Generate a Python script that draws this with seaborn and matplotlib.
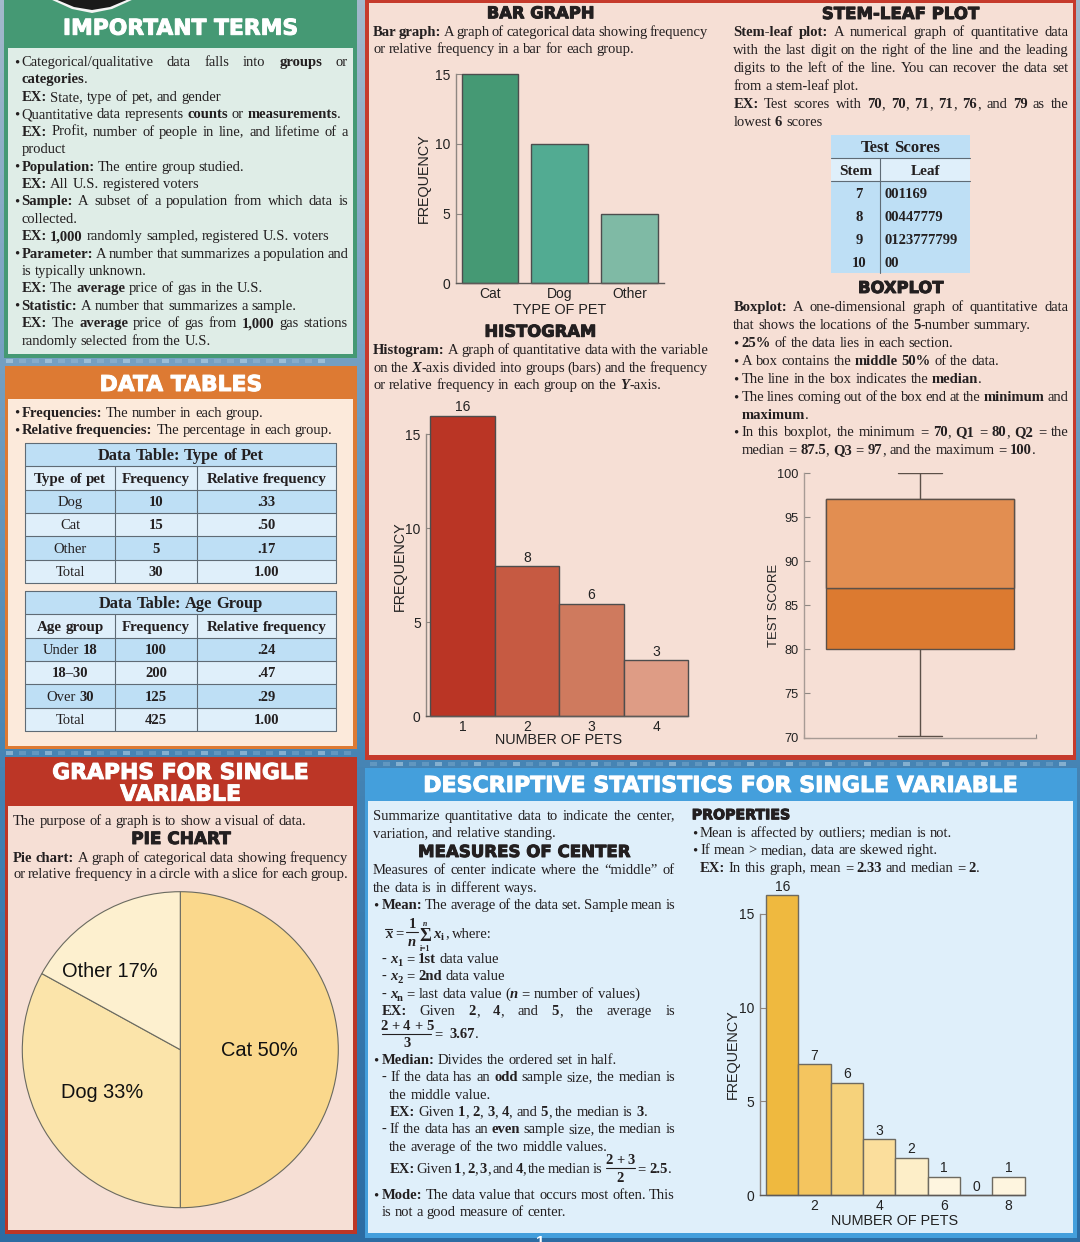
import re
import matplotlib
matplotlib.use("Agg")
import matplotlib.pyplot as plt
import matplotlib.patheffects as pe
from matplotlib.colors import LinearSegmentedColormap
from matplotlib.patches import Rectangle, Polygon
import numpy as np
import seaborn as sns

W, H = 1080, 1242
SERIF = "Liberation Serif"
SANS = "Liberation Sans"
HEAVY = "DejaVu Sans"
BODY = 10.55
INK = "#231F20"

# chart values
bar_cats = ["Cat", "Dog", "Other"]
bar_vals = [15, 10, 5]
bar_cols = ["#459974", "#52AB92", "#7FBAA5"]

hist1_cats = ["1", "2", "3", "4"]
hist1_vals = [16, 8, 6, 3]
hist1_cols = ["#BA3525", "#C65A42", "#CF7A5E", "#DE9C85"]

hist2_cats = ["1", "2", "3", "4", "5", "6", "7", "8"]
hist2_vals = [16, 7, 6, 3, 2, 1, 0, 1]
hist2_cols = ["#EFB93F", "#F4C55F", "#F6D27B", "#FBDE9C", "#FDEEC8", "#FEF5DF", "#FEF5DF", "#FEF5DF"]
hist2_ticks = ["2", "4", "6", "8"]

box_scores = [70.2, 80, 87, 97, 100]

pie_labels = ["Cat 50%", "Dog 33%", "Other 17%"]
pie_vals = [50, 33, 17]
pie_cols = ["#FAD88C", "#FBE4AA", "#FDF0CF"]

# tables
pet_rows = ["Dog", "Cat", "Other", "Total"]
pet_freq = ["10", "15", "5", "30"]
pet_rel = [".33", ".50", ".17", "1.00"]
age_rows = ["Under **18**", "**18–30**", "Over **30**", "Total"]
age_freq = ["100", "200", "125", "425"]
age_rel = [".24", ".47", ".29", "1.00"]
stems = ["7", "8", "9", "10"]
leaves = ["001169", "00447779", "0123777799", "00"]

terms_lines = [
    ("•", "Categorical/qualitative data falls into **groups** or", True),
    ("", "**categories**.", False),
    ("", "**EX:** State, type of pet, and gender", False),
    ("•", "Quantitative data represents **counts** or **measurements**.", False),
    ("", "**EX:** Profit, number of people in line, and lifetime of a", True),
    ("", "product", False),
    ("•", "**Population:** The entire group studied.", False),
    ("", "**EX:** All U.S. registered voters", False),
    ("•", "**Sample:** A subset of a population from which data is", True),
    ("", "collected.", False),
    ("", "**EX: 1,000** randomly sampled, registered U.S. voters", False),
    ("•", "**Parameter:** A number that summarizes a population and", True),
    ("", "is typically unknown.", False),
    ("", "**EX:** The **average** price of gas in the U.S.", False),
    ("•", "**Statistic:** A number that summarizes a sample.", False),
    ("", "**EX:** The **average** price of gas from **1,000** gas stations", True),
    ("", "randomly selected from the U.S.", False),
]

stem_lines = [
    "**Stem-leaf plot:** A numerical graph of quantitative data",
    "with the last digit on the right of the line and the leading",
    "digits to the left of the line. You can recover the data set",
    "from a stem-leaf plot.",
    "**EX:** Test scores with **70**, **70**, **71**, **71**, **76**, and **79** as the",
    "lowest **6** scores",
]

box_lines = [
    (311, "", "**Boxplot:** A one-dimensional graph of quantitative data", True),
    (329, "", "that shows the locations of the **5**-number summary.", False),
    (347, "•", "**25%** of the data lies in each section.", False),
    (365, "•", "A box contains the **middle 50%** of the data.", False),
    (383, "•", "The line in the box indicates the **median**.", False),
    (401, "•", "The lines coming out of the box end at the **minimum** and", True),
    (419, "", "**maximum**.", False),
    (436, "•", "In this boxplot, the minimum = **70**, **Q1** = **80**, **Q2** = the", True),
    (454, "", "median = **87.5**, **Q3** = **97**, and the maximum = **100**.", False),
]

sns.set_theme(style="ticks")
plt.rcParams["font.family"] = [SANS, "DejaVu Sans"]

fig = plt.figure(figsize=(W / 100, H / 100), dpi=100)
bg = fig.add_axes([0, 0, 1, 1])
bg.set_xlim(0, W)
bg.set_ylim(H, 0)
bg.axis("off")
rend = fig.canvas.get_renderer()

# backdrop
cmap = LinearSegmentedColormap.from_list("back", ["#A3B9CC", "#6E9CC0", "#3F80B2", "#2C6CA3"])
bg.imshow(np.linspace(0, 1, 256).reshape(-1, 1), cmap=cmap, extent=[0, W, H, 0], aspect="auto", zorder=0)
bg.set_xlim(0, W)
bg.set_ylim(H, 0)


def rect(x0, y0, x1, y1, color, z=1, **kw):
    bg.add_patch(Rectangle((x0, y0), x1 - x0, y1 - y0, facecolor=color, edgecolor="none", zorder=z, **kw))


for x_start, x_end, yy in [(6, 320, 359), (6, 345, 751), (370, 1070, 762)]:
    for sx in range(x_start, x_end, 13):
        rect(sx, yy, sx + 7, yy + 4, "#CFE4F2", z=0.5, alpha=0.2 + 0.25 * (sx % 3 == 0))

# panels
rect(4, -2, 357, 358, "#459974")
rect(8, 48, 353, 354, "#DFEDE7")
rect(5, 366, 357, 749, "#DD7A33")
rect(8, 399, 353, 746, "#FCEADB")
rect(5, 757, 357, 1234, "#BC3626")
rect(8, 806, 353, 1230, "#F6DFD5")
rect(365, -2, 1076, 760, "#C63A2C")
rect(369, 3, 1073, 755, "#F6DFD5")
rect(365, 768, 1077, 1238, "#449FDC")
rect(368, 801, 1073, 1233, "#DFEFFA")

bg.add_patch(Polygon([(50, -1), (72, 9), (92, 13), (112, 9), (134, -1)], facecolor="#F5F5F5", edgecolor="none", zorder=2))
bg.add_patch(Polygon([(55, -1), (74, 7), (92, 10), (110, 7), (129, -1)], facecolor="#1A1A1A", edgecolor="none", zorder=3))


cache = {}


def measure(s, style, size):
    key = (s, style, size)
    if key not in cache:
        t = draw(0, 0, s, style, size)
        cache[key] = t.get_window_extent(rend).width
        t.remove()
    return cache[key]


def draw(x, y, s, style, size, color=INK):
    weight = "bold" if style in ("b", "i", "s") else "normal"
    slant = "italic" if style == "i" else "normal"
    fs = size * 0.72 if style == "s" else size
    dy = 3 if style == "s" else 0
    return bg.text(x, y + dy, s, family=SERIF, fontsize=fs, fontweight=weight, fontstyle=slant,
                   color=color, ha="left", va="baseline", zorder=5)


def tokens(s):
    out = [[]]
    for b, i, sub, plain in re.findall(r"\*\*(.+?)\*\*|__(.+?)__|~(.+?)~|([^*_~]+)", s):
        style = "b" if b else "i" if i else "s" if sub else "r"
        parts = (b or i or sub or plain).split(" ")
        for n, p in enumerate(parts):
            if n > 0:
                out.append([])
            if p:
                out[-1].append((style, p))
    return [t for t in out if t]


def line(x, y, s, right=None, center=False, size=BODY):
    toks = tokens(s)
    widths = [sum(measure(p, st, size) for st, p in t) for t in toks]
    gap = size * 0.25 * 100 / 72
    total = sum(widths) + gap * (len(toks) - 1)
    if right is not None and len(toks) > 1:
        gap = (right - x - sum(widths)) / (len(toks) - 1)
    if center:
        x = x - total / 2
    for t, w in zip(toks, widths):
        cx = x
        for st, p in t:
            draw(cx, y, p, st, size)
            cx += measure(p, st, size)
        x += w + gap


def bullet(x, y):
    draw(x, y, "•", "r", BODY)


def heading(s, cx, y, width, color=INK, ha="center"):
    t = bg.text(0, 0, s, family=HEAVY, fontweight="bold", fontsize=10)
    w = t.get_window_extent(rend).width
    t.remove()
    bg.text(cx, y, s, family=HEAVY, fontweight="bold", fontsize=10 * width / w, color=color,
            ha=ha, va="baseline", zorder=5,
            path_effects=[pe.withStroke(linewidth=0.7, foreground=color)])


heading("IMPORTANT TERMS", 180.8, 34.7, 236, "white")
heading("DATA TABLES", 180.8, 391, 163, "white")
heading("GRAPHS FOR SINGLE", 180.5, 779, 257, "white")
heading("VARIABLE", 180.5, 800.7, 121, "white")
heading("BAR GRAPH", 540.8, 18.3, 108)
heading("HISTOGRAM", 540.5, 336.7, 112)
heading("STEM-LEAF PLOT", 900.8, 19, 158)
heading("BOXPLOT", 900.8, 293, 86)
heading("DESCRIPTIVE STATISTICS FOR SINGLE VARIABLE", 720.5, 792, 596, "white")
heading("MEASURES OF CENTER", 524.3, 857, 213)
heading("PROPERTIES", 691.7, 819.3, 99, ha="left")
heading("PIE CHART", 180.7, 844, 100)

# important terms
for n, (mark, s, just) in enumerate(terms_lines):
    y = 66 + n * 17.42
    if mark:
        bullet(14, y)
    line(21.3, y, s, right=348 if just else None)

# data tables
bullet(14, 416.7)
line(21.3, 416.7, "**Frequencies:** The number in each group.")
bullet(14, 434.3)
line(21.3, 434.3, "**Relative frequencies:** The percentage in each group.")


def data_table(top, title, head, rows, freq, rel):
    rh = 23.33
    xs = [25, 115, 197, 336]
    mids = [70, 156, 266.5]
    for r in range(6):
        rect(25, top + r * rh, 336, top + (r + 1) * rh, "#BEDFF5" if r in (0, 2, 4) else "#DFEFFA", z=2)
        bg.plot([25, 336], [top + r * rh] * 2, color="#5F6B75", lw=0.8, zorder=3)
    bg.plot([25, 336], [top + 6 * rh] * 2, color="#5F6B75", lw=0.8, zorder=3)
    for x in xs:
        y0 = top if x in (25, 336) else top + rh
        bg.plot([x, x], [y0, top + 6 * rh], color="#5F6B75", lw=0.8, zorder=3)
    line(180.7, top + 17.5, title, center=True, size=11.9)
    for mx, s in zip(mids, head):
        line(mx, top + rh + 16.5, "**" + s + "**", center=True, size=10.8)
    for r in range(4):
        y = top + (r + 2) * rh + 16.5
        line(mids[0], y, rows[r], center=True)
        line(mids[1], y, "**" + freq[r] + "**", center=True)
        line(mids[2], y, "**" + rel[r] + "**", center=True)


data_table(443, "**Data Table: Type of Pet**", ["Type of pet", "Frequency", "Relative frequency"],
           pet_rows, pet_freq, pet_rel)
data_table(591, "**Data Table: Age Group**", ["Age group", "Frequency", "Relative frequency"],
           age_rows, age_freq, age_rel)

# graphs intro
line(13, 825, "The purpose of a graph is to show a visual of data.")
line(13, 861.7, "**Pie chart:** A graph of categorical data showing frequency", right=348)
line(13, 878.3, "or relative frequency in a circle with a slice for each group.", right=348)

# bar graph and histogram text
line(373, 36, "**Bar graph:** A graph of categorical data showing frequency", right=708)
line(373, 53.3, "or relative frequency in a bar for each group.")
line(373, 354, "**Histogram:** A graph of quantitative data with the variable", right=708)
line(373, 372, "on the __X__-axis divided into groups (bars) and the frequency", right=708)
line(373, 389.3, "or relative frequency in each group on the __Y__-axis.")

# stem leaf text and table
for n, s in enumerate(stem_lines):
    line(733.3, 36 + n * 18, s, right=1068.3 if n in (0, 1, 2, 4) else None)

rect(831, 135, 970, 273, "#BEDFF5", z=2)
rect(831, 158, 970, 181, "#DFEFFA", z=2)
for yy in (158, 181):
    bg.plot([831, 970], [yy, yy], color="#5F6B75", lw=0.8, zorder=3)
bg.plot([880, 880], [158, 273], color="#5F6B75", lw=0.8, zorder=3)
line(900.5, 152, "**Test Scores**", center=True, size=12)
line(855.7, 175, "**Stem**", center=True, size=11)
line(925.7, 175, "**Leaf**", center=True, size=11)
for n, (st, lf) in enumerate(zip(stems, leaves)):
    line(859, 198 + n * 23, "**" + st + "**", center=True)
    line(884.3, 198 + n * 23, "**" + lf + "**")

for y, mark, s, just in box_lines:
    if mark:
        bullet(733.3, y)
    x0 = 741.7 if (mark or y in (419, 454)) else 733.3
    line(x0, y, s, right=1068.3 if just else None)

# descriptive text, left column
R = 675
line(373, 820, "Summarize quantitative data to indicate the center,", right=R)
line(373, 837.3, "variation, and relative standing.")
line(373, 874, "Measures of center indicate where the “middle” of", right=R)
line(373, 892, "the data is in different ways.")
bullet(373.3, 909)
line(381.3, 909, "**Mean:** The average of the data set. Sample mean is", right=R)

# mean formula
draw(385, 937.5, "x", "i", BODY)
bg.plot([385, 392], [928.5, 928.5], color=INK, lw=0.8, zorder=5)
draw(395, 937.5, "=", "r", BODY)
draw(409, 928, "1", "b", BODY)
bg.plot([405.5, 418], [931.7, 931.7], color=INK, lw=0.8, zorder=5)
draw(408, 945.5, "n", "i", BODY)
bg.text(425, 941, "Σ", family=SERIF, fontsize=13, fontweight="bold", color=INK, ha="center", va="baseline", zorder=5)
bg.text(425, 925.5, "n", family=SERIF, fontsize=5.5, fontstyle="italic", fontweight="bold", color=INK, ha="center", zorder=5)
bg.text(425, 951, "i=1", family=SERIF, fontsize=5.5, fontweight="bold", color=INK, ha="center", zorder=5)
line(433, 937.5, "__x__~i~")
line(445, 937.5, ", where:")

line(381.3, 962.7, "- __x__~1~ = **1st** data value")
line(381.3, 980, "- __x__~2~ = **2nd** data value")
line(381.3, 998, "- __x__~n~ = last data value (__n__ = number of values)")
line(381.3, 1015, "**EX:** Given **2**, **4**, and **5**, the average is", right=R)
line(406.7, 1030, "**2 + 4 + 5**", center=True)
bg.plot([382.3, 431], [1034, 1034], color=INK, lw=0.8, zorder=5)
line(406.7, 1046.7, "**3**", center=True)
line(434.3, 1038, "= **3.67**.", right=479)

bullet(373.3, 1064)
line(381.3, 1064, "**Median:** Divides the ordered set in half.")
line(381.3, 1081, "- If the data has an **odd** sample size, the median is", right=R)
line(389.3, 1099, "the middle value.")
line(389.3, 1116, "**EX:** Given **1**, **2**, **3**, **4**, and **5**, the median is **3**.")
line(381.3, 1133, "- If the data has an **even** sample size, the median is", right=R)
line(389.3, 1151, "the average of the two middle values.")
line(389.3, 1172.7, "**EX:** Given **1**, **2**, **3**, and **4**, the median is", right=602)
line(620, 1164, "**2 + 3**", center=True)
bg.plot([606, 635], [1167.7, 1167.7], color=INK, lw=0.8, zorder=5)
line(620, 1181.7, "**2**", center=True)
line(637.7, 1172.7, "= **2.5**.", right=672)
bullet(373.3, 1199)
line(381.3, 1199, "**Mode:** The data value that occurs most often. This", right=R)
line(381.3, 1216, "is not a good measure of center.")

# properties
bullet(692, 837)
line(700, 837, "Mean is affected by outliers; median is not.")
bullet(692, 854)
line(700, 854, "If mean > median, data are skewed right.")
line(700, 872, "**EX:** In this graph, mean = **2.33** and median = **2**.")

bg.text(540, 1246, "1", family=SANS, fontweight="bold", fontsize=11, color="white", ha="center", va="baseline", zorder=5)


def chart_axes(l, t, r, b):
    ax = fig.add_axes([l / W, 1 - b / H, (r - l) / W, (b - t) / H])
    ax.patch.set_alpha(0)
    return ax


def place_labels(ax, box, xlabel, xpos, ylabel, ypos, size=10.4):
    l, t, r, b = box
    ax.set_xlabel(xlabel, fontsize=size, color="#222222", va="center")
    ax.set_ylabel(ylabel, fontsize=size, color="#222222", va="center")
    if xpos:
        ax.xaxis.set_label_coords((xpos[0] - l) / (r - l), (b - xpos[1]) / (b - t))
    ax.yaxis.set_label_coords((ypos[0] - l) / (r - l), (b - ypos[1]) / (b - t))


def style_axes(ax, size=10, length=4.6):
    sns.despine(ax=ax)
    for side in ("left", "bottom"):
        ax.spines[side].set_color("#8F8782")
        ax.spines[side].set_linewidth(1.0)
    ax.spines["bottom"].set_color("#5E5A58")
    ax.tick_params(axis="y", direction="in", length=length, width=0.8, color="#8F8782",
                   labelsize=size, labelcolor="#222222", pad=4)
    ax.tick_params(axis="x", length=0, labelsize=size, labelcolor="#222222", pad=3)
    for p in ax.patches:
        p.set_clip_on(False)


# bar graph
box = (455.7, 74, 664.3, 283.3)
ax = chart_axes(*box)
sns.barplot(x=bar_cats, y=bar_vals, hue=bar_cats, palette=bar_cols, dodge=False, legend=False,
            width=0.81, saturation=1, edgecolor="#4D4D4D", linewidth=1, ax=ax)
ax.set_xlim(-0.492, 2.5)
ax.set_ylim(0, 15)
ax.set_yticks([0, 5, 10, 15])
style_axes(ax)
place_labels(ax, box, "TYPE OF PET", (559.5, 310), "FREQUENCY", (424, 178))

# histogram
box = (426.3, 415.7, 688.3, 716.3)
ax = chart_axes(*box)
sns.barplot(x=hist1_cats, y=hist1_vals, hue=hist1_cats, palette=hist1_cols, dodge=False, legend=False,
            width=1, saturation=1, edgecolor="#4D4D4D", linewidth=1, ax=ax)
ax.set_xlim(-0.562, 3.5)
ax.set_ylim(0, 16)
ax.set_yticks([0, 5, 10, 15])
style_axes(ax)
ax.spines["left"].set_bounds(0, 15)
for c in ax.containers:
    ax.bar_label(c, padding=1, fontsize=10, color="#222222")
place_labels(ax, box, "NUMBER OF PETS", (559, 740), "FREQUENCY", (399.7, 566))

# boxplot
box = (804, 473, 1035.7, 737.5)
ax = chart_axes(*box)
q2, q3 = box_scores[2], box_scores[3]
sns.boxplot(y=box_scores, width=0.8, color="#DC7A30", linecolor="#5C5048", linewidth=1, saturation=1,
            capwidths=0.19, ax=ax)
ax.bar(0, q3 - q2, bottom=q2, width=0.8, color="#E28E51", edgecolor="#5C5048", linewidth=1, zorder=4)
ax.set_xlim(-0.4936, 0.494)
ax.set_ylim(70, 100)
ax.set_yticks([70, 75, 80, 85, 90, 95, 100])
ax.set_xticks([-0.4936, 0.494], ["", ""])
style_axes(ax, size=9.2)
ax.spines["left"].set_color("#A79B95")
ax.spines["bottom"].set_color("#A79B95")
ax.tick_params(axis="x", direction="in", length=3, width=0.8, color="#8F8782")
place_labels(ax, box, "", None, "TEST SCORE", (774, 605.5), size=9.4)

# descriptive histogram
box = (759.7, 895, 1024.7, 1195.3)
ax = chart_axes(*box)
sns.barplot(x=hist2_cats, y=hist2_vals, hue=hist2_cats, palette=hist2_cols, dodge=False, legend=False,
            width=1, saturation=1, edgecolor="#6E6A60", linewidth=1, ax=ax)
ax.set_xlim(-0.696, 7.5)
ax.set_ylim(0, 16)
ax.set_yticks([0, 5, 10, 15])
ax.set_xticks([1, 3, 5, 7], hist2_ticks)
style_axes(ax)
ax.spines["left"].set_bounds(0, 15)
for c in ax.containers:
    ax.bar_label(c, padding=1, fontsize=10, color="#222222")
place_labels(ax, box, "NUMBER OF PETS", (895, 1221), "FREQUENCY", (732.7, 1053.8))

# pie
ax = chart_axes(180.3 - 159, 1049.7 - 159, 180.3 + 159, 1049.7 + 159)
ax.pie(pie_vals, colors=pie_cols, startangle=90, counterclock=False, radius=158 / 159,
       wedgeprops={"edgecolor": "#6A6A60", "linewidth": 0.8})
ax.set_xlim(-1, 1)
ax.set_ylim(-1, 1)
for s, (px, py) in zip(pie_labels, [(259, 1050), (101.7, 1092), (110.3, 971.5)]):
    fig.text(px / W, 1 - py / H, s, fontsize=14.4, color="#111111", ha="center", va="center", zorder=10)

fig.savefig("out.png", dpi=100)
